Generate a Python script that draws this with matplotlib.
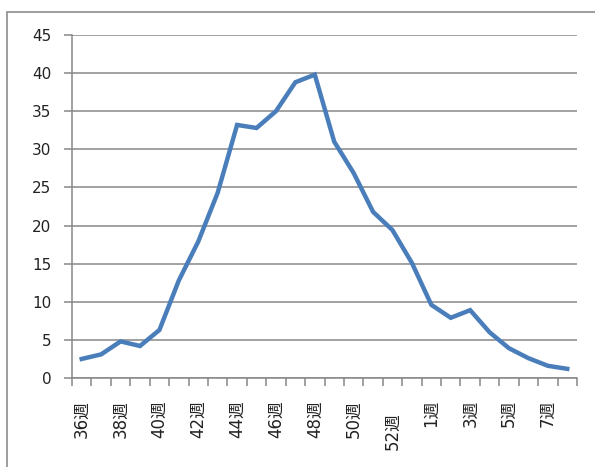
import matplotlib.pyplot as plt
import matplotlib.transforms as mtransforms
import numpy as np
from matplotlib.patches import Rectangle

# weekly counts, week 36 of one year through week 8 of the next
weeks = list(range(36, 54)) + list(range(1, 9))
counts = [2.5, 3.1, 4.8, 4.2, 6.3, 12.8, 17.9, 24.3, 33.2, 32.8, 35.0, 38.8, 39.8,
          31.0, 26.9, 21.8, 19.4, 15.1, 9.6, 7.9, 8.9, 6.0, 3.9, 2.6, 1.6, 1.2]
week_labels = [str(w) + "週" for w in weeks]

grid_col = "#878787"
line_col = "#4a7ebb"

fig = plt.figure(figsize=(5.95, 4.67), dpi=100)
ax = fig.add_axes([72/595, 1 - 378/467, 505/595, 343/467])

# outer chart frame
fig.patches.append(Rectangle((7/595, -0.05), 1.2, 1 - 11.5/467 + 0.05,
                             transform=fig.transFigure, fill=False,
                             edgecolor="#8c8c8c", lw=1.2))

x = np.arange(len(counts))
ax.plot(x, counts, color=line_col, lw=3.2, solid_joinstyle="miter", zorder=3)

ax.set_xlim(-0.5, len(counts) - 0.5)
ax.set_ylim(0, 45)
ax.set_yticks(range(0, 46, 5))
ax.yaxis.grid(True, color=grid_col, lw=1.1)
ax.set_axisbelow(True)

for s in ["top", "right"]:
    ax.spines[s].set_visible(False)
for s in ["left", "bottom"]:
    ax.spines[s].set_color(grid_col)
    ax.spines[s].set_linewidth(1.1)

ax.tick_params(axis="y", length=6, width=1.1, color=grid_col, pad=9,
               labelsize=11, labelcolor="#222222")

# labels on every other week, tick marks between categories
ax.set_xticks(x[::2])
ax.set_xticklabels(week_labels[::2], rotation=90, va="top", ha="center",
                   family=["DejaVu Sans", "Noto Sans CJK JP"], fontsize=12,
                   color="#222222")
ax.set_xticks(np.arange(-0.5, len(counts)), minor=True)
ax.tick_params(axis="x", which="major", length=0, pad=16)
ax.tick_params(axis="x", which="minor", length=6, width=1.1, color=grid_col)

# the 52週 label sits a little lower than the rest
for lab in ax.get_xticklabels():
    if lab.get_text() == "52週":
        lab.set_transform(lab.get_transform() +
                          mtransforms.ScaledTranslation(0, -0.12, fig.dpi_scale_trans))

plt.savefig("out.png", dpi=100)
